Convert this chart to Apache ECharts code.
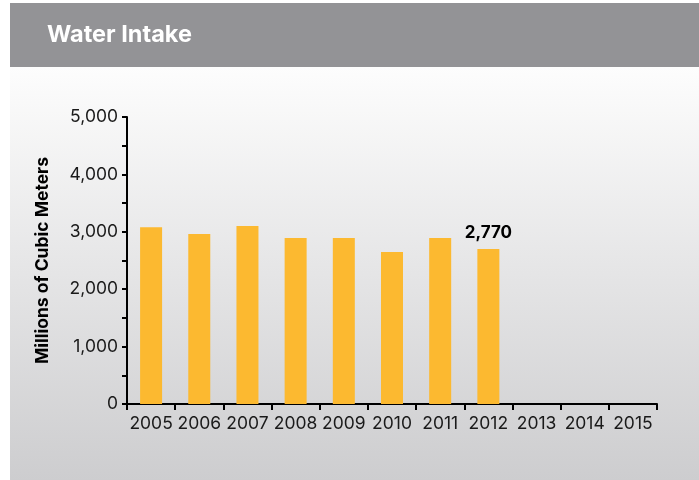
<!DOCTYPE html>
<html><head><meta charset="utf-8">
<script src="https://cdn.jsdelivr.net/npm/echarts@6/dist/echarts.min.js"></script>
<style>html,body{margin:0;padding:0;background:#fff}#c{width:699px;height:480px}</style>
</head><body><div id="c"></div>
<script>
const categories = ['2005','2006','2007','2008','2009','2010','2011','2012','2013','2014','2015'];
const values = [3080, 2960, 3100, 2890, 2890, 2650, 2890, 2700, null, null, null];
const barLabels = ['', '', '', '', '', '', '', '2,770', '', '', ''];
const yTicks = [0, 1000, 2000, 3000, 4000, 5000];

const chart = echarts.init(document.getElementById('c'), null, {renderer: 'canvas'});
const font = 'Inter, "Liberation Sans", Arial, sans-serif';
chart.setOption({
  animation: false,
  textStyle: {fontFamily: font},
  graphic: [
    {type: 'rect', z: -10, shape: {x: 10, y: 67, width: 689, height: 413},
     style: {fill: new echarts.graphic.LinearGradient(0, 0, 0, 1, [
       {offset: 0, color: '#fdfdfd'}, {offset: 1, color: '#cdcdcf'}])}},
    {type: 'rect', z: -9, shape: {x: 10, y: 3, width: 689, height: 64},
     style: {fill: '#939396'}},
    {type: 'text', z: 10, left: 47, top: 23,
     style: {text: 'Water Intake', fill: '#ffffff', font: 'bold 23.5px ' + font}}
  ],
  grid: {left: 127, right: 42, top: 117, bottom: 76},
  xAxis: {
    type: 'category', data: categories,
    axisLine: {lineStyle: {color: '#000', width: 2}},
    axisTick: {show: true, length: 6, lineStyle: {color: '#000', width: 2}},
    axisLabel: {color: '#1a1a1a', fontSize: 17.5, margin: 11, interval: 0, hideOverlap: false, fontFamily: font}
  },
  yAxis: {
    type: 'value', min: yTicks[0], max: yTicks[yTicks.length - 1], interval: 1000,
    name: 'Millions of Cubic Meters', nameLocation: 'middle', nameGap: 75,
    nameTextStyle: {fontWeight: 'bold', fontSize: 17.5, color: '#000', fontFamily: font},
    axisLine: {show: true, lineStyle: {color: '#000', width: 2}},
    axisTick: {show: true, length: 5, lineStyle: {color: '#000', width: 2}},
    minorTick: {show: true, splitNumber: 2, length: 5, lineStyle: {color: '#000', width: 2}},
    splitLine: {show: false},
    axisLabel: {color: '#1a1a1a', fontSize: 17.5, margin: 9, fontFamily: font,
      formatter: v => v.toLocaleString('en-US')}
  },
  series: [{
    type: 'bar', data: values, barWidth: 22,
    itemStyle: {color: '#fcb930'},
    label: {show: true, position: 'top', distance: 8, color: '#000',
      fontWeight: 'bold', fontSize: 17, fontFamily: font,
      formatter: p => barLabels[p.dataIndex]}
  }]
});
</script></body></html>
